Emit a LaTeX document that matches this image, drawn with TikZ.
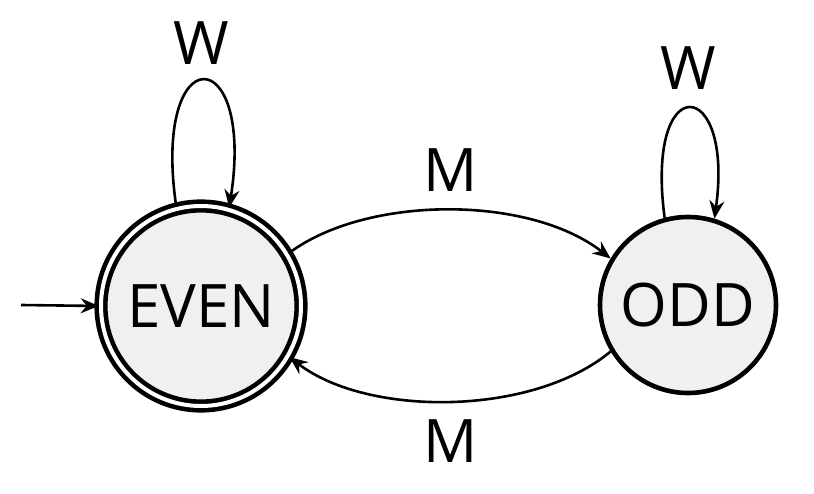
\documentclass[tikz,border=0pt]{standalone}
\usepackage{fontspec}
\setmainfont{Open Sans}
\usetikzlibrary{arrows.meta}
\definecolor{statefill}{HTML}{F0F0F0}
\tikzset{
  state/.style={circle, draw=black, fill=statefill, line width=4.6pt, inner sep=0pt, font=\fontsize{60}{66}\selectfont},
  accept/.style={double=white, double distance=4pt},
  trans/.style={line width=2.6pt, -{Stealth[length=18pt,width=15pt,inset=6pt]}},
  lbl/.style={font=\fontsize{60}{66}\selectfont, inner sep=0pt}
}
\begin{document}
\begin{tikzpicture}[x=1pt,y=-1pt]
\useasboundingbox (0,0) rectangle (814,494);
\node[state, accept, minimum size=200pt] (E) at (201,306) {EVEN};
\node[state, minimum size=176pt] (O) at (688,305) {ODD};
\coordinate (start) at (21,305);
\draw[trans] (start) -- (E.west);
\draw[trans] (E.104) .. controls +(-25,-170) and +(26,-168) .. (E.74);
\draw[trans] (O.105) .. controls +(-20,-150) and +(20,-143) .. (O.73);
\draw[trans] (E.31) .. controls +(77,-58) and +(-82,-64) .. (O.149);
\draw[trans] (O.211) .. controls +(-78,65) and +(78,60) .. (E.330);
\node[lbl] (w1) at (201,43) {W};
\node[lbl] (w2) at (688,68) {W};
\node[lbl] (m1) at (451,170) {M};
\node[lbl] (m2) at (451,441) {M};
\end{tikzpicture}
\end{document}
